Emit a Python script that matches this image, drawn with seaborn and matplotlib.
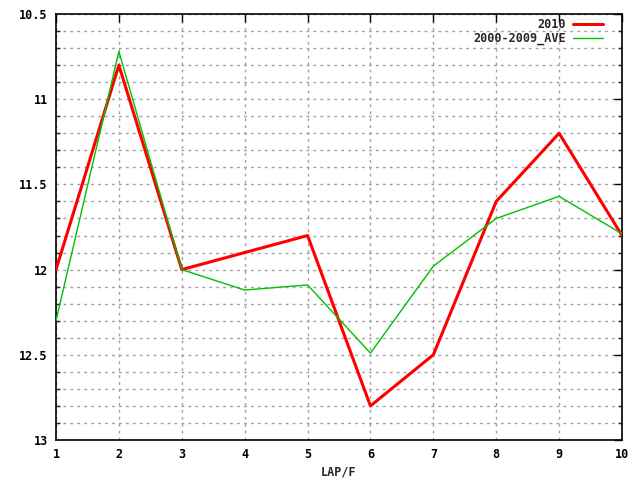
import matplotlib
matplotlib.use("Agg")
import matplotlib.pyplot as plt
import seaborn as sns
import pandas as pd
from matplotlib.ticker import MultipleLocator
from matplotlib.lines import Line2D

laps = [1, 2, 3, 4, 5, 6, 7, 8, 9, 10]
y2010 = [12.0, 10.8, 12.0, 11.9, 11.8, 12.8, 12.5, 11.6, 11.2, 11.8]
yave = [12.3, 10.72, 12.0, 12.12, 12.09, 12.49, 11.98, 11.7, 11.57, 11.79]
series_names = ["2010", "2000-2009_AVE"]
ytick_vals = [10.5, 11, 11.5, 12, 12.5, 13]
ytick_labels = ["10.5", "11", "11.5", "12", "12.5", "13"]

df = pd.DataFrame({
    "LAP/F": laps * 2,
    "value": y2010 + yave,
    "series": [series_names[0]] * len(laps) + [series_names[1]] * len(laps),
})

sns.set_style("white")
plt.rcParams['font.family'] = ['DejaVu Sans Mono', 'DejaVu Sans']
plt.rcParams['font.weight'] = 'bold'

FS = 8.5

fig = plt.figure(figsize=(6.4, 4.8), dpi=100)
ax = fig.add_axes([56/640, 40/480, 566/640, 426/480])

sns.lineplot(data=df, x="LAP/F", y="value", hue="series", size="series",
             palette={series_names[0]: "#ff0000", series_names[1]: "#00c000"},
             sizes={series_names[0]: 2.2, series_names[1]: 1.0},
             ax=ax, legend=False, zorder=3)

ax.set_xlim(1, 10)
ax.set_ylim(13, 10.5)
ax.xaxis.set_major_locator(MultipleLocator(1))
ax.yaxis.set_minor_locator(MultipleLocator(0.1))
ax.set_yticks(ytick_vals)
ax.set_yticklabels(ytick_labels)

ax.grid(True, which="both", axis="y", color="#a0a0a0", linestyle=(0, (2, 3)), linewidth=1)
ax.grid(True, which="major", axis="x", color="#a0a0a0", linestyle=(0, (2, 3)), linewidth=1)
ax.set_axisbelow(True)

for s in ax.spines.values():
    s.set_color("black")
    s.set_linewidth(1.2)
ax.tick_params(which="major", direction="in", length=6, width=1, top=True, right=True,
               labelsize=FS, pad=6, colors="black")
ax.tick_params(which="minor", direction="in", length=3, width=1, left=True, right=True)
for lab in ax.get_xticklabels() + ax.get_yticklabels():
    lab.set_fontweight("bold")

ax.set_xlabel("LAP/F", fontsize=FS, fontweight="bold", va="center")
ax.xaxis.set_label_coords(0.5, -(472 - 440) / 426)
ax.set_ylabel("")

handles = [Line2D([], [], color="#ff0000", lw=2.2), Line2D([], [], color="#00c000", lw=1.0)]
leg = ax.legend(handles, series_names, loc="upper right", frameon=False, markerfirst=False,
                handlelength=2.6, handletextpad=0.6, borderaxespad=0.0,
                bbox_to_anchor=(1 - 14/566, 1 + 1/426), labelspacing=0.1,
                prop={"weight": "bold", "size": FS})
leg._legend_box.align = "right"

fig.savefig("out.png", dpi=100, facecolor="white")
